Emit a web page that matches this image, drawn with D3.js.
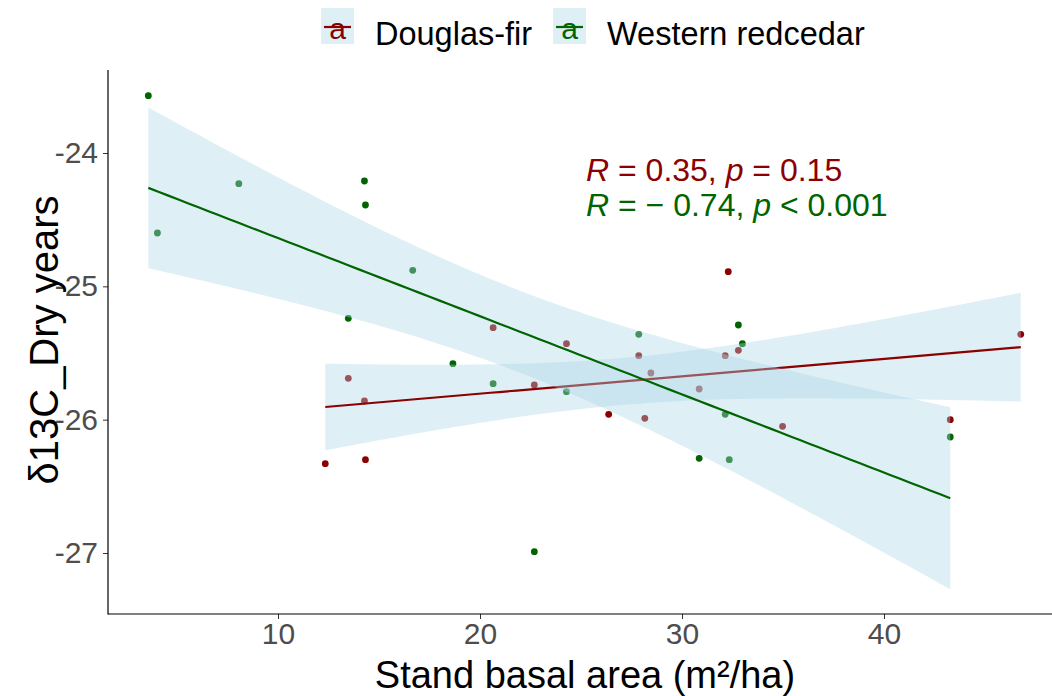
<!DOCTYPE html>
<html><head><meta charset="utf-8">
<script src="https://cdn.jsdelivr.net/npm/d3@7"></script>
<style>
body{margin:0;background:#fff}
text{font-family:"Liberation Sans",Arial,sans-serif}
</style>
</head><body>
<svg id="c" width="1052" height="696"></svg>
<script>
// ---- data ----
const species = ["Douglas-fir", "Western redcedar"];
const speciesColors = ["#8B0000", "#006400"];
const dfBasalArea = [12.34, 14.33, 13.48, 14.28, 20.65, 24.28, 22.69, 26.37, 27.86, 28.16, 28.46, 30.85, 32.14, 32.79, 32.29, 34.98, 43.28, 46.77];
const dfD13C      = [-26.33, -26.30, -25.69, -25.86, -25.31, -25.43, -25.74, -25.96, -25.52, -25.99, -25.65, -25.77, -25.52, -25.48, -24.89, -26.05, -26.00, -25.36];
const wrcBasalArea = [3.58, 4.03, 8.06, 14.28, 14.33, 16.67, 13.48, 18.66, 20.65, 24.28, 27.86, 22.69, 32.79, 32.99, 32.14, 30.85, 32.34, 43.28];
const wrcD13C      = [-23.57, -24.60, -24.23, -24.21, -24.39, -24.88, -25.24, -25.58, -25.73, -25.79, -25.36, -26.99, -25.29, -25.43, -25.96, -26.29, -26.30, -26.13];
const xTicks = [10, 20, 30, 40];
const yTicks = [-24, -25, -26, -27];
const statR = ["0.35", "\u2212 0.74"];
const statP = ["= 0.15", "< 0.001"];
const xTitle = "Stand basal area (m\u00B2/ha)";
const yTitle = "\u03B413C_Dry years";

const groups = [
  {name: species[0], color: speciesColors[0], xs: dfBasalArea, ys: dfD13C},
  {name: species[1], color: speciesColors[1], xs: wrcBasalArea, ys: wrcD13C}
];

const svg = d3.select("#c");
const pLeft = 108, pTop = 70, pBottom = 614;
const x = d3.scaleLinear().domain([10, 40]).range([278, 884]);
const y = d3.scaleLinear().domain([-27, -24]).range([553, 153]);

// t quantile 0.975 for df = 16
const tq = 2.1199;
function fit(g) {
  const n = g.xs.length;
  const mx = d3.mean(g.xs), my = d3.mean(g.ys);
  let sxx = 0, sxy = 0;
  g.xs.forEach((v, i) => { sxx += (v - mx) ** 2; sxy += (v - mx) * (g.ys[i] - my); });
  const b = sxy / sxx, a = my - b * mx;
  let sse = 0;
  g.xs.forEach((v, i) => { sse += (g.ys[i] - (a + b * v)) ** 2; });
  const s = Math.sqrt(sse / (n - 2));
  const [lo, hi] = d3.extent(g.xs);
  return d3.range(0, 81).map(k => {
    const xv = lo + (hi - lo) * k / 80;
    const yh = a + b * xv;
    const se = s * Math.sqrt(1 / n + (xv - mx) ** 2 / sxx);
    return {x: xv, y: yh, lo: yh - tq * se, hi: yh + tq * se};
  });
}

svg.append("clipPath").attr("id", "pc").append("rect")
  .attr("x", pLeft).attr("y", pTop).attr("width", 1052 - pLeft).attr("height", pBottom - pTop);
const plot = svg.append("g").attr("clip-path", "url(#pc)");

// points
groups.forEach(g => {
  plot.append("g").selectAll("circle").data(g.xs.map((v, i) => [v, g.ys[i]])).join("circle")
    .attr("cx", d => x(d[0])).attr("cy", d => y(d[1])).attr("r", 3.4).attr("fill", g.color);
});

// smooths
const area = d3.area().x(d => x(d.x)).y0(d => y(d.lo)).y1(d => y(d.hi));
const line = d3.line().x(d => x(d.x)).y(d => y(d.y));
groups.forEach(g => {
  const f = fit(g);
  plot.append("path").attr("d", area(f)).attr("fill", "#ADD8E6").attr("fill-opacity", 0.4);
  plot.append("path").attr("d", line(f)).attr("fill", "none").attr("stroke", g.color).attr("stroke-width", 2.2);
});

// axes
const xAxis = svg.append("g").attr("transform", `translate(0,${pBottom})`)
  .call(d3.axisBottom(x).tickValues(xTicks).tickSize(5).tickPadding(4).tickFormat(d3.format("d")));
const yAxis = svg.append("g").attr("transform", `translate(${pLeft},0)`)
  .call(d3.axisLeft(y).tickValues(yTicks).tickSize(5).tickPadding(5).tickFormat(d => String(d)));
[xAxis, yAxis].forEach(a => {
  a.select(".domain").remove();
  a.selectAll(".tick line").attr("stroke", "#333").attr("stroke-width", 1);
  a.selectAll(".tick text").attr("fill", "#4D4D4D").style("font-size", "30px")
    .style("font-family", '"Liberation Sans",Arial,sans-serif');
});
svg.append("line").attr("x1", pLeft).attr("x2", pLeft).attr("y1", pTop).attr("y2", pBottom + 0.5)
  .attr("stroke", "#000").attr("stroke-width", 1.2);
svg.append("line").attr("x1", pLeft).attr("x2", 1052).attr("y1", pBottom).attr("y2", pBottom)
  .attr("stroke", "#000").attr("stroke-width", 1.2);

// titles
svg.append("text").attr("x", 585).attr("y", 688).attr("text-anchor", "middle")
  .style("font-size", "38px").attr("fill", "#000").text(xTitle);
svg.append("text").attr("transform", "translate(58,340) rotate(-90)").attr("text-anchor", "middle")
  .style("font-size", "40px").attr("fill", "#000").text(yTitle);

// stats annotation
groups.forEach((g, i) => {
  const t = svg.append("text").attr("x", 586).attr("y", 181 + i * 35)
    .style("font-size", "32px").attr("fill", g.color);
  t.append("tspan").style("font-style", "italic").text("R");
  t.append("tspan").text(" = " + statR[i] + ", ");
  t.append("tspan").style("font-style", "italic").text("p");
  t.append("tspan").text(" " + statP[i]);
});

// legend
const legX = [321, 553];
groups.forEach((g, i) => {
  const lg = svg.append("g").attr("transform", `translate(${legX[i]},8)`);
  lg.append("rect").attr("width", 33).attr("height", 36).attr("fill", "#ADD8E6").attr("fill-opacity", 0.4);
  lg.append("line").attr("x1", 3).attr("x2", 30).attr("y1", 19).attr("y2", 19)
    .attr("stroke", g.color).attr("stroke-width", 2.2);
  lg.append("text").attr("x", 16.5).attr("y", 31).attr("text-anchor", "middle")
    .style("font-size", "30px").attr("fill", g.color).text("a");
  lg.append("text").attr("x", 54).attr("y", 37).style("font-size", "32.5px").attr("fill", "#000").text(g.name);
});
</script>
</body></html>
